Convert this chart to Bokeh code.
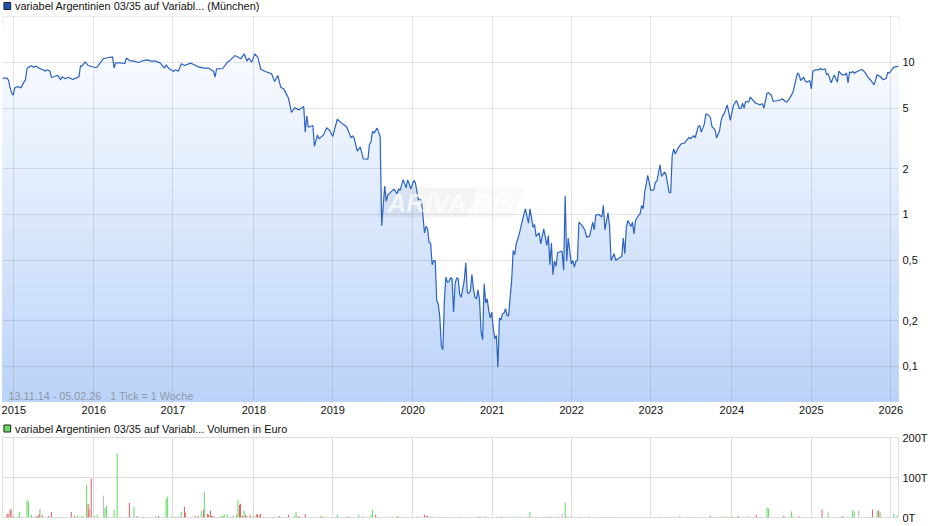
from bokeh.core.properties import value
from bokeh.embed import file_html
from bokeh.layouts import column
from bokeh.models import FixedTicker, Label, PolyAnnotation, Range1d
from bokeh.plotting import figure
from bokeh.resources import INLINE
import numpy as np

TITLE_PRICE = "variabel Argentinien 03/35 auf Variabl... (München)"
TITLE_VOLUME = "variabel Argentinien 03/35 auf Variabl... Volumen in Euro"
DATE_NOTE = "13.11.14 - 05.02.26\u00a0\u00a0\u00a01 Tick = 1 Woche"

# x is counted in weeks from 13.11.14 (1 tick = 1 week)
LAST_WEEK = 586
year_labels = ["2015", "2016", "2017", "2018", "2019", "2020", "2021", "2022", "2023", "2024", "2025", "2026"]
year_weeks = [7.4, 59.7, 111.4, 164.4, 216, 268.3, 320.3, 372.3, 424, 477, 529, 581]

price_ticks = [0.1, 0.2, 0.5, 1, 2, 5, 10]
price_tick_labels = ["0,1", "0,2", "0,5", "1", "2", "5", "10"]
volume_ticks = [0, 100, 200]
volume_tick_labels = ["0T", "100T", "200T"]

price_weeks = [
    0, 3, 4, 5, 6, 7, 8, 10, 12, 14, 15, 16, 17, 19, 20, 22, 24, 26, 28, 29, 31, 32, 34, 36, 38, 39, 41, 43, 46, 48,
    50, 51, 52, 54, 56, 58, 61, 62, 65, 66, 68, 72, 73, 74, 77, 80, 81, 83, 86, 89, 92, 95, 97, 100, 103, 106, 107,
    109, 112, 113, 115, 117, 119, 123, 125, 128, 132, 135, 138, 139, 140, 144, 147, 149, 152, 155, 156, 158, 160,
    161, 163, 165, 167, 169, 172, 176, 178, 180, 182, 184, 187, 189, 191, 194, 197, 198, 199, 200, 203, 204, 206,
    207, 210, 212, 214, 216, 217, 219, 221, 223, 225, 228, 229, 230, 232, 234, 236, 239, 240, 241, 242, 243, 245,
    247, 248, 250, 251, 252, 256, 258, 259, 260, 262, 264, 265, 267, 269, 270, 272, 274, 276, 277, 278, 279, 280,
    281, 282, 283, 284, 285, 286, 287, 288, 289, 290, 291, 292, 293, 294, 295, 296, 297, 298, 299, 300, 302, 303,
    304, 305, 306, 307, 308, 309, 310, 311, 312, 313, 314, 315, 316, 317, 318, 319, 320, 321, 322, 323, 324, 325,
    326, 327, 328, 329, 330, 331, 332, 333, 334, 335, 336, 337, 338, 340, 342, 344, 345, 347, 348, 349, 351, 352,
    354, 356, 357, 358, 359, 360, 361, 362, 363, 365, 366, 367, 368, 369, 370, 372, 373, 374, 375, 376, 377, 379,
    381, 382, 384, 386, 387, 388, 390, 392, 393, 394, 396, 397, 398, 400, 401, 403, 405, 406, 407, 408, 409, 411,
    412, 413, 414, 416, 417, 418, 419, 420, 422, 424, 426, 427, 428, 430, 431, 433, 434, 436, 437, 438, 439, 440,
    442, 444, 446, 449, 450, 452, 453, 455, 456, 457, 459, 460, 462, 463, 464, 466, 467, 469, 470, 471, 472, 474,
    476, 478, 480, 482, 483, 484, 485, 486, 488, 489, 491, 493, 494, 495, 497, 498, 500, 501, 503, 504, 507, 509,
    510, 512, 513, 515, 517, 518, 520, 521, 522, 524, 525, 526, 528, 529, 530, 532, 534, 535, 536, 538, 539, 540,
    542, 544, 546, 547, 549, 551, 552, 553, 554, 555, 556, 557, 559, 562, 564, 566, 568, 570, 572, 574, 576, 578,
    579, 580, 582, 583, 586,
]
price_values = [
    7.89, 7.89, 7.61, 6.81, 6.29, 6.10, 6.81, 6.95, 6.81, 7.42, 7.69, 9.09, 9.32, 9.51, 9.32, 9.46, 9.18, 8.99, 8.77,
    8.95, 8.77, 7.97, 8.09, 8.25, 7.69, 8.05, 7.81, 8.00, 7.73, 7.89, 8.05, 9.51, 9.46, 10.1, 9.56, 9.41, 9.27, 9.36,
    10.3, 10.6, 10.7, 10.9, 9.18, 9.95, 9.95, 9.85, 10.7, 10.3, 10.2, 10.0, 10.3, 10.4, 10.2, 10.2, 9.95, 9.18, 9.65,
    9.09, 8.73, 8.95, 8.77, 9.80, 9.56, 9.90, 9.70, 9.36, 9.18, 9.18, 8.77, 8.00, 9.09, 9.13, 10.0, 10.4, 11.1, 10.7,
    10.6, 11.4, 10.2, 10.7, 10.05, 11.4, 10.8, 8.99, 8.73, 8.42, 7.50, 8.21, 6.88, 6.68, 5.83, 4.69, 5.03, 4.88, 5.13,
    3.48, 4.46, 3.75, 3.85, 2.81, 3.34, 3.15, 3.34, 3.72, 3.57, 3.26, 3.57, 4.24, 4.05, 3.91, 3.79, 3.19, 3.29, 3.18,
    2.61, 2.77, 2.32, 2.31, 2.89, 3.00, 3.53, 3.43, 3.70, 3.26, 0.842, 1.536, 1.218, 1.346, 1.468, 1.368, 1.475, 1.44,
    1.69, 1.497, 1.69, 1.475, 1.674, 1.62, 1.25, 1.25, 0.757, 0.836, 0.805, 0.654, 0.648, 0.467, 0.498, 0.498, 0.272,
    0.258, 0.211, 0.137, 0.129, 0.272, 0.387, 0.359, 0.362, 0.383, 0.379, 0.228, 0.35, 0.383, 0.379, 0.298, 0.286,
    0.368, 0.481, 0.308, 0.302, 0.316, 0.403, 0.324, 0.286, 0.279, 0.319, 0.272, 0.168, 0.150, 0.35, 0.262, 0.279,
    0.233, 0.209, 0.228, 0.177, 0.152, 0.160, 0.099, 0.208, 0.203, 0.222, 0.225, 0.240, 0.216, 0.216, 0.286, 0.368,
    0.58, 0.543, 0.641, 0.692, 0.746, 0.913, 1.09, 0.877, 1.09, 0.825, 0.859, 0.717, 0.757, 0.641, 0.805, 0.625, 0.727,
    0.467, 0.648, 0.401, 0.493, 0.456, 0.56, 0.571, 0.571, 0.43, 1.33, 0.493, 0.70, 0.473, 0.498, 0.451, 0.493, 0.498,
    0.89, 0.847, 0.785, 0.71, 0.72, 0.89, 0.793, 0.99, 1.00, 0.962, 1.147, 0.793, 1.026, 0.847, 0.498, 0.552, 0.498,
    0.515, 0.529, 0.70, 0.552, 0.825, 0.913, 0.834, 0.89, 0.746, 0.913, 0.985, 1.01, 1.147, 1.09, 1.40, 1.81, 1.44,
    1.45, 1.63, 1.66, 2.12, 1.78, 1.90, 1.83, 1.39, 1.39, 2.44, 2.70, 2.50, 2.75, 2.92, 2.95, 3.22, 3.15, 3.30, 3.19,
    3.79, 3.85, 3.48, 3.93, 4.60, 4.48, 4.33, 3.79, 3.60, 3.19, 3.57, 4.16, 4.48, 4.60, 5.26, 4.16, 5.21, 5.62, 4.96,
    5.00, 5.40, 5.00, 5.54, 5.48, 5.91, 5.62, 5.35, 5.35, 5.26, 5.35, 5.00, 6.29, 6.32, 6.06, 5.54, 5.62, 5.68, 5.77,
    5.54, 5.48, 5.85, 6.38, 7.06, 8.55, 8.33, 7.61, 8.00, 7.53, 7.42, 7.61, 6.70, 8.77, 8.95, 8.95, 9.18, 8.95, 9.09,
    8.29, 8.42, 7.35, 8.29, 7.42, 8.77, 8.29, 8.29, 8.55, 7.35, 8.64, 8.55, 8.73, 8.51, 8.73, 8.99, 8.64, 8.00, 7.61,
    7.13, 8.29, 8.09, 7.69, 7.89, 8.64, 8.51, 9.09, 9.32, 9.46,
]

# volume in thousands of euro, split by the colour of the bar
up_weeks = [
    1, 9, 11, 13, 16, 17, 19, 24.5, 28, 36,
    39, 49, 50, 52, 55, 58, 60, 62, 67, 68,
    73, 75, 77, 86, 107, 108, 111, 115, 117, 130,
    132, 143, 144, 145, 147, 151, 153, 154, 158, 160,
    164, 191, 192, 206, 208, 212, 218, 219, 233, 240,
    241, 242, 245, 255, 258, 262, 268, 282, 311, 315,
    323, 327, 333, 334, 336, 338, 339, 345, 354, 355,
    362, 368, 370, 383, 396, 414, 418, 421, 426, 430,
    439, 443, 447, 451, 459, 468, 471, 472, 474, 478,
    486, 491, 500, 501, 510, 516, 517, 524, 530, 540,
    554, 556, 557, 572, 574, 579, 583, 585, 586,
]
up_vols = [
    1, 2, 14, 2, 44.5, 39.5, 6.7, 22, 2, 2,
    2, 4, 2, 4, 82, 2, 4, 6.7, 24.4, 29.4,
    19.3, 160.5, 2, 27, 47, 52, 4, 4, 14, 17,
    65, 4, 4, 9, 7, 4, 7, 44.5, 17, 4,
    4, 4, 14, 2, 4, 2, 2, 7, 7, 2,
    7, 19, 2, 2, 4, 2, 2, 2, 2, 2,
    2, 2, 2, 2, 2, 2, 2, 14, 2, 2,
    2, 37, 2, 2, 2, 1, 1, 1, 1, 2.5,
    1, 4, 1, 1, 1, 1, 2.5, 2.5, 2.5, 1,
    2.5, 1, 25, 22.7, 1, 15, 2.5, 1, 1, 12.6,
    1, 17.6, 15, 17.6, 12.6, 1, 10, 5, 2.5,
]
down_weeks = [
    3, 3.7, 5, 5.6, 7, 22, 23, 24, 26, 30,
    32, 45, 47, 53, 56, 56.6, 58, 69, 83, 88,
    92, 100, 102, 113, 119, 119.6, 126, 128, 131.5, 134,
    134.7, 136, 136.7, 137.6, 138.3, 149, 155, 155.7, 156.5, 157,
    159, 162, 166, 166.7, 168, 168.7, 177, 181, 187, 192.7,
    194, 198, 209, 210, 226, 227, 235, 236, 244, 251,
    259, 260, 271, 272, 276, 277, 278, 280, 286, 299,
    312, 313, 316, 326, 330, 343, 344, 349, 356, 358,
    359, 364, 369, 372, 378, 384, 435, 436, 453, 463,
    475, 476, 477, 481, 488, 492, 493, 495, 496, 504,
    511, 521, 536, 549, 550, 565, 567, 569, 573,
]
down_vols = [
    9, 9, 18.5, 22, 4, 4, 4, 9, 6.7, 4,
    14, 14, 4, 2, 34.5, 22, 97.5, 2, 37, 4,
    2, 2.5, 4, 2, 27, 12, 4, 4, 19, 9,
    7, 17, 4, 4, 2, 2, 32, 34.5, 2, 4,
    7, 7, 7, 9, 4, 9, 2, 4, 7, 2,
    4, 9, 2, 2, 2, 2, 2, 2, 7, 2,
    2, 2, 2, 2, 7, 4, 4, 2, 2, 2,
    2, 2, 2, 2, 2, 2, 2, 2, 2, 2,
    2, 2, 2, 2, 2, 2, 1, 1, 1, 4,
    1, 1.5, 2.5, 4, 2.5, 1.5, 6.7, 1, 1, 1,
    5, 2.5, 20, 2.5, 2.5, 1, 1, 20, 17.6,
]
flat_weeks = [66, 225, 366, 560]
flat_vols = [54.6, 2, 9, 17.6]

LINE_BLUE = "#2a63c2"
GRID = "#dedede"
FONT = "Liberation Sans"


def style_axes(p, x_ticks, y_ticks, y_overrides, x_overrides=None):
    p.outline_line_color = GRID
    p.outline_line_width = 1
    p.xgrid.ticker = FixedTicker(ticks=x_ticks)
    p.ygrid.ticker = FixedTicker(ticks=y_ticks)
    p.xaxis.ticker = FixedTicker(ticks=x_ticks)
    p.yaxis.ticker = FixedTicker(ticks=y_ticks)
    p.yaxis.major_label_overrides = y_overrides
    if x_overrides:
        p.xaxis.major_label_overrides = x_overrides
    for ax in [p.xaxis, p.yaxis]:
        ax.axis_line_color = None
        ax.major_tick_line_color = None
        ax.minor_tick_line_color = None
        ax.major_tick_out = 0
        ax.major_tick_in = 0
        ax.minor_tick_out = 0
        ax.major_label_text_font = FONT
        ax.major_label_text_font_size = "11px"
        ax.major_label_text_color = "#111111"
        ax.major_label_standoff = 4


def heading(text, swatch, height, middle):
    # a thin figure of its own, its range counted in pixels from the top
    h = figure(width=934, height=height, output_backend="svg", toolbar_location=None,
               x_range=Range1d(0, 934), y_range=Range1d(height, 0), min_border=0, outline_line_color=None)
    h.axis.visible = False
    h.grid.visible = False
    h.quad(left=[1.5], right=[8.5], top=[middle - 3.5], bottom=[middle + 3.5], fill_color=swatch,
           line_color="#222222", line_width=1)
    h.text(x=[13], y=[middle], text=[text], text_font=value(FONT), text_font_size="10.9px", text_color="#111111",
           text_baseline="middle")
    return h


# top chart: price on a log axis
y_top, y_bottom = 20.07, 0.0588
p = figure(width=934, height=405, output_backend="svg", toolbar_location=None, y_axis_type="log",
           y_axis_location="right", x_range=Range1d(0, LAST_WEEK), y_range=Range1d(y_bottom, y_top),
           min_border_left=2, min_border_right=36, min_border_top=1, min_border_bottom=19)
style_axes(p, year_weeks, price_ticks, dict(zip(price_ticks, price_tick_labels)), dict(zip(year_weeks, year_labels)))
p.xgrid.grid_line_color = "#777777"
p.xgrid.grid_line_alpha = 0.2
p.ygrid.grid_line_color = "#777777"
p.ygrid.grid_line_alpha = 0.2

# background gradient, painted from the top down, then white above the curve
edges = np.geomspace(y_top, y_bottom, 194)[:-1]
shade = np.linspace(0, 1, len(edges))
colors = ["#%02x%02x%02x" % (round(255 - 68 * s), round(255 - 44 * s), round(255 - 6 * s)) for s in shade]
p.quad(left=0, right=LAST_WEEK, top=edges, bottom=y_bottom, fill_color=colors, line_color=None, level="image")
p.varea(x=price_weeks, y1=price_values, y2=np.full(len(price_values), y_top), fill_color="white", level="image")

p.line(price_weeks, price_values, line_color=LINE_BLUE, line_width=1.2)

# watermark
p.add_layout(PolyAnnotation(xs=[380, 477, 467, 377], ys=[172, 172, 202, 202], xs_units="canvas", ys_units="canvas",
                            fill_color="#666666", fill_alpha=0.07, line_color=None, level="annotation"))
p.add_layout(PolyAnnotation(xs=[477, 525, 513, 467], ys=[172, 172, 202, 202], xs_units="canvas", ys_units="canvas",
                            fill_color="#999999", fill_alpha=0.05, line_color=None, level="annotation"))
p.add_layout(Label(x=387, y=187, x_units="canvas", y_units="canvas", text="ARIVA.DE", text_font=FONT,
                   text_font_size="26px", text_font_style="bold italic", text_color="white", text_alpha=0.7,
                   text_baseline="middle"))
p.add_layout(Label(x=8, y=380, x_units="canvas", y_units="canvas", text=DATE_NOTE, text_font=FONT,
                   text_font_size="10.8px", text_color="#8f98a8", text_baseline="middle"))

# bottom chart: volume, pulled up under the heading so the 200T label has room
v = figure(width=934, height=96, output_backend="svg", toolbar_location=None, y_axis_location="right",
           x_range=p.x_range, y_range=Range1d(0, 200), margin=(-7, 0, 0, 0), border_fill_alpha=0,
           min_border_left=2, min_border_right=36, min_border_top=8, min_border_bottom=8)
style_axes(v, year_weeks, volume_ticks, dict(zip(volume_ticks, volume_tick_labels)))
v.xaxis.visible = False
v.xgrid.grid_line_color = GRID
v.ygrid.grid_line_color = GRID
v.vbar(x=up_weeks, top=up_vols, width=0.7, fill_color="#66dd66", line_color=None)
v.vbar(x=down_weeks, top=down_vols, width=0.7, fill_color="#dd6666", line_color=None)
v.vbar(x=flat_weeks, top=flat_vols, width=0.7, fill_color="#bbbbbb", line_color=None)

page = column(heading(TITLE_PRICE, "#1c52b4", 15, 5.5), p, heading(TITLE_VOLUME, "#66dd66", 16, 8), v, spacing=0)
open("out.html", "w").write(file_html(page, INLINE))
